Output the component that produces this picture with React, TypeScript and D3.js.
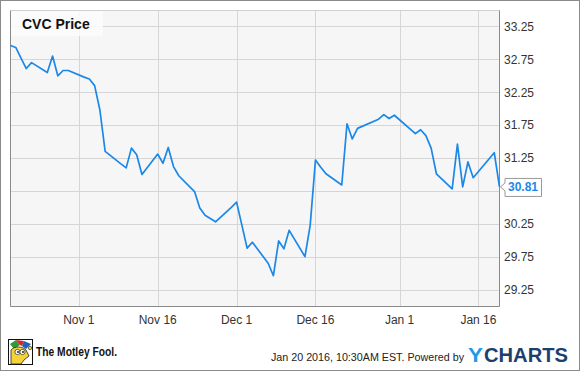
import React from "react";
import * as d3 from "d3";

const dates = [
  "2015-10-19","2015-10-20","2015-10-21","2015-10-22","2015-10-23","2015-10-26","2015-10-27","2015-10-28","2015-10-29","2015-10-30",
  "2015-11-02","2015-11-03","2015-11-04","2015-11-05","2015-11-06","2015-11-09","2015-11-10","2015-11-11","2015-11-12","2015-11-13",
  "2015-11-16","2015-11-17","2015-11-18","2015-11-19","2015-11-20","2015-11-23","2015-11-24","2015-11-25","2015-11-27","2015-11-30",
  "2015-12-01","2015-12-02","2015-12-03","2015-12-04","2015-12-07","2015-12-08","2015-12-09","2015-12-10","2015-12-11","2015-12-14",
  "2015-12-15","2015-12-16","2015-12-17","2015-12-18","2015-12-21","2015-12-22","2015-12-23","2015-12-24","2015-12-28","2015-12-29",
  "2015-12-30","2015-12-31","2016-01-04","2016-01-05","2016-01-06","2016-01-07","2016-01-08","2016-01-11","2016-01-12","2016-01-13",
  "2016-01-14","2016-01-15","2016-01-19","2016-01-20"
];
const prices = [
  32.96, 32.93, 32.77, 32.61, 32.70, 32.55, 32.80, 32.50, 32.58, 32.58,
  32.48, 32.45, 32.35, 31.98, 31.35, 31.16, 31.10, 31.40, 31.30, 31.00,
  31.31, 31.17, 31.41, 31.12, 30.98, 30.74, 30.49, 30.38, 30.28, 30.50,
  30.58, 30.23, 29.88, 29.97, 29.65, 29.46, 29.99, 29.87, 30.15, 29.75,
  30.23, 31.22, 31.11, 31.01, 30.84, 31.77, 31.54, 31.70, 31.84, 31.91,
  31.85, 31.90, 31.62, 31.68, 31.59, 31.40, 31.01, 30.78, 31.46, 30.81,
  31.19, 30.95, 31.33, 30.81
];
const yTicks = [29.25, 29.75, 30.25, 30.75, 31.25, 31.75, 32.25, 32.75, 33.25];
const xTickDates = ["2015-11-01", "2015-11-16", "2015-12-01", "2015-12-16", "2016-01-01", "2016-01-16"];
const xTickLabels = ["Nov 1", "Nov 16", "Dec 1", "Dec 16", "Jan 1", "Jan 16"];
const lastPrice = "30.81";
const title = "CVC Price";

const parse = d3.timeParse("%Y-%m-%d");

export default function App() {
  const W = 580, H = 371;
  const L = 10.5, R = 499.5, T = 10.5, B = 306.5;
  const x = d3.scaleTime().domain([parse("2015-10-19")!, parse("2016-01-20")!]).range([L, R]);
  const y = d3.scaleLinear().domain([29, 33.5]).range([306, 10]);
  const pts = dates.map((d, i) => [x(parse(d)!), y(prices[i])] as [number, number]);
  const line = d3.line()(pts) || "";
  const lastY = y(prices[prices.length - 1]);
  const font = "'Liberation Sans', Arial, sans-serif";
  const blue = "#1b88e8";
  const shownTicks = yTicks.filter((t) => Math.abs(y(t) - lastY) > 14);

  return (
    <svg width={W} height={H} style={{ position: "absolute", left: 0, top: 0 }} fontFamily={font}>
      <rect x={0} y={0} width={W} height={H} fill="#fff" />
      <rect x={0.5} y={0.5} width={W - 1} height={H - 1} fill="none" stroke="#8a8a8a" strokeWidth={1} />
      <rect x={L} y={T} width={R - L} height={B - T} fill="#f6f6f6" />
      {yTicks.map((t) => (
        <line key={"gy" + t} x1={L} x2={R} y1={Math.round(y(t)) + 0.5} y2={Math.round(y(t)) + 0.5} stroke="#d6d6d6" strokeWidth={1} />
      ))}
      {xTickDates.map((d) => {
        const xx = Math.round(x(parse(d)!)) + 0.5;
        return <line key={"gx" + d} x1={xx} x2={xx} y1={T} y2={B} stroke="#d6d6d6" strokeWidth={1} />;
      })}
      <line x1={L} x2={R} y1={T} y2={T} stroke="#d0d0d0" />
      <line x1={L} x2={L} y1={T} y2={B} stroke="#8a8a8a" />
      <line x1={R} x2={R} y1={T} y2={B} stroke="#8a8a8a" />
      <line x1={L} x2={R} y1={B} y2={B} stroke="#8a8a8a" />
      <rect x={11} y={11} width={92} height={25} fill="#fcfcfc" opacity={0.85} />
      <text x={22} y={29} fontSize={14} fontWeight="bold" fill="#111">{title}</text>
      <path d={line} fill="none" stroke={blue} strokeWidth={1.7} strokeLinejoin="round" />
      {shownTicks.map((t) => (
        <text key={"ty" + t} x={504} y={y(t)} dy="0.36em" fontSize={12} fill="#333">{t.toFixed(2)}</text>
      ))}
      {xTickDates.map((d, i) => (
        <text key={"tx" + d} x={x(parse(d)!)} y={324} textAnchor="middle" fontSize={12} fill="#333">{xTickLabels[i]}</text>
      ))}
      <path
        d={`M505,${lastY - 8.5} H541.5 V${lastY + 9.5} H505 V${lastY + 4} L500.5,${lastY} L505,${lastY - 4} Z`}
        fill="#fff" stroke="#999" strokeWidth={1}
      />
      <text x={508} y={lastY} dy="0.36em" fontSize={12} fontWeight="bold" fill={blue}>{lastPrice}</text>
      {/* Motley Fool logo */}
      <g transform="translate(8,339)">
        <rect x={0.5} y={0.5} width={24} height={25} fill="#fff" stroke="#111" />
        <path d="M2,5 L8,1 L12,6 L6,10 Z" fill="#2e9b3a" />
        <path d="M8,1 L16,2 L14,7 L12,6 Z" fill="#d7262a" />
        <path d="M16,2 L23,5 L18,10 L14,7 Z" fill="#1f5fbf" />
        <path d="M3,11 C6,7 15,7 18,11 L21,17 L16,21 L13,25 L3,25 Z" fill="#f4d23a" stroke="#222" strokeWidth={0.8} />
        <circle cx={9.5} cy={13} r={2.6} fill="#fff" stroke="#222" strokeWidth={0.7} />
        <circle cx={14.5} cy={13} r={2.6} fill="#fff" stroke="#222" strokeWidth={0.7} />
        <circle cx={10} cy={13} r={1} fill="#222" />
        <circle cx={15} cy={13} r={1} fill="#222" />
        <circle cx={22} cy={9} r={1.7} fill="#f4d23a" stroke="#222" strokeWidth={0.6} />
      </g>
      <text x={36} y={355.5} fontSize={13} fontWeight="bold" fill="#111" textLength={81} lengthAdjust="spacingAndGlyphs">The Motley Fool.</text>
      <text x={271} y={361} fontSize={11} fill="#222" textLength={193} lengthAdjust="spacingAndGlyphs">Jan 20 2016, 10:30AM EST. Powered by</text>
      <text x={468} y={361.5} fontSize={20} fontWeight="bold" fill="#1e9be8" textLength={15} lengthAdjust="spacingAndGlyphs">Y</text>
      <text x={484} y={361.5} fontSize={20} fontWeight="bold" fill="#1d3f6e" textLength={84} lengthAdjust="spacingAndGlyphs">CHARTS</text>
    </svg>
  );
}
